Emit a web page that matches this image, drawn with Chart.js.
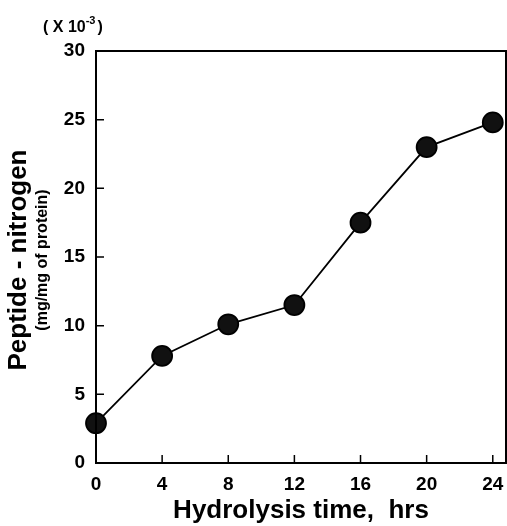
<!DOCTYPE html>
<html>
<head>
<meta charset="utf-8">
<script src="https://cdn.jsdelivr.net/npm/chart.js@4"></script>
<style>
    html, body { margin: 0; padding: 0; background: #fff; }
    #wrap { width: 507px; height: 526px; }
</style>
</head>
<body>
<div id="wrap"><canvas id="wykres" width="507" height="526"></canvas></div>
<script>
// dane
const czasy = [0, 4, 8, 12, 16, 20, 24];
const azot = [2.9, 7.8, 10.1, 11.5, 17.5, 23.0, 24.8];
const tickiX = [0, 4, 8, 12, 16, 20, 24];
const tickiY = [0, 5, 10, 15, 20, 25, 30];

const FONT = '"Liberation Sans", Arial, sans-serif';

// ramka, ticki do srodka i opisy osi
const ramkaPlugin = {
    id: 'ramka',
    afterDraw(chart) {
        const { ctx, chartArea: a, scales } = chart;
        ctx.save();
        ctx.strokeStyle = '#000';
        ctx.lineWidth = 2;
        ctx.strokeRect(a.left, a.top, a.right - a.left, a.bottom - a.top);

        ctx.lineWidth = 1.5;
        ctx.beginPath();
        tickiX.forEach(v => {
            const x = scales.x.getPixelForValue(v);
            ctx.moveTo(x, a.bottom);
            ctx.lineTo(x, a.bottom - 8);
        });
        tickiY.forEach(v => {
            const y = scales.y.getPixelForValue(v);
            ctx.moveTo(a.left, y);
            ctx.lineTo(a.left + 8, y);
        });
        ctx.stroke();

        ctx.fillStyle = '#000';
        // ( X 10-3 )
        ctx.textBaseline = 'alphabetic';
        ctx.textAlign = 'left';
        ctx.font = 'bold 16px ' + FONT;
        ctx.fillText('( X 10', 43, 32);
        const w = ctx.measureText('( X 10').width;
        ctx.font = 'bold 11px ' + FONT;
        ctx.fillText('-3', 43 + w, 24);
        const w2 = ctx.measureText('-3').width;
        ctx.font = 'bold 16px ' + FONT;
        ctx.fillText(')', 43 + w + w2 + 2, 32);

        // tytul osi Y
        const cy = 260;
        ctx.translate(0, cy);
        ctx.rotate(-Math.PI / 2);
        ctx.textAlign = 'center';
        ctx.textBaseline = 'middle';
        ctx.font = 'bold 26px ' + FONT;
        ctx.fillText('Peptide - nitrogen', 0, 19);
        ctx.font = 'bold 16px ' + FONT;
        ctx.fillText('(mg/mg of protein)', 0, 43);
        ctx.restore();
    }
};

new Chart(document.getElementById('wykres'), {
    type: 'line',
    data: {
        datasets: [{
            data: czasy.map((t, i) => ({ x: t, y: azot[i] })),
            borderColor: '#000',
            borderWidth: 1.8,
            backgroundColor: '#000',
            pointRadius: 10,
            pointHoverRadius: 10,
            pointBackgroundColor: '#111',
            pointBorderColor: '#000',
            tension: 0,
            fill: false,
            clip: false
        }]
    },
    options: {
        responsive: false,
        animation: false,
        layout: { autoPadding: false, padding: { left: 0, top: 51, right: 1, bottom: 0 } },
        plugins: {
            legend: { display: false },
            tooltip: { enabled: false }
        },
        scales: {
            x: {
                type: 'linear',
                min: 0,
                max: 24.8,
                afterFit: s => { s.height = 63; s.paddingLeft = 0; s.paddingRight = 0; },
                afterBuildTicks: s => { s.ticks = tickiX.map(v => ({ value: v })); },
                grid: { display: false },
                border: { display: false },
                ticks: {
                    color: '#000',
                    font: { family: FONT, size: 19, weight: 'bold' },
                    padding: 2,
                    maxRotation: 0
                },
                title: {
                    display: true,
                    text: 'Hydrolysis time,  hrs',
                    color: '#000',
                    font: { family: FONT, size: 26, weight: 'bold' },
                    padding: { top: 0, bottom: 0 }
                }
            },
            y: {
                min: 0,
                max: 30,
                afterFit: s => { s.width = 96; s.paddingTop = 0; s.paddingBottom = 0; },
                afterBuildTicks: s => { s.ticks = tickiY.map(v => ({ value: v })); },
                grid: { display: false },
                border: { display: false },
                ticks: {
                    color: '#000',
                    font: { family: FONT, size: 19, weight: 'bold' },
                    padding: 3
                }
            }
        }
    },
    plugins: [ramkaPlugin]
});
</script>
</body>
</html>
